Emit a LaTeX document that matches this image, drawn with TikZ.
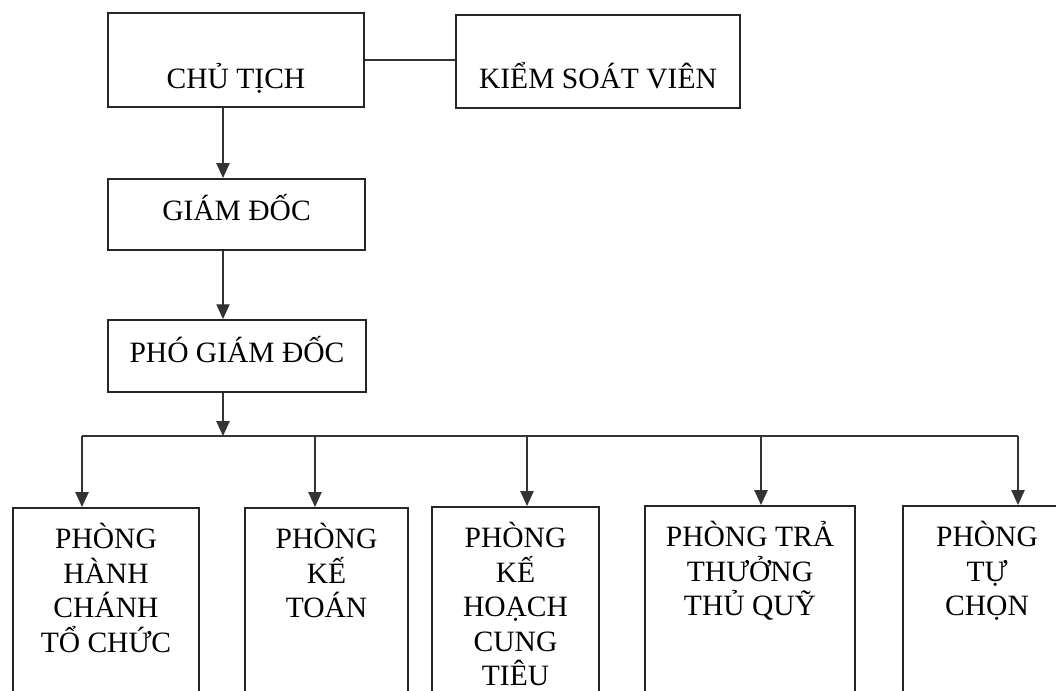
\documentclass[tikz,border=0pt]{standalone}
\usepackage{fontspec}
\setmainfont{Liberation Serif}
\usetikzlibrary{arrows.meta}

\tikzset{
  unit/.style={draw=black!85, line width=1.3pt, inner sep=0pt, align=center, text depth=0pt},
  dept/.style={draw=black!85, line width=1.3pt, inner sep=0pt, anchor=north},
  link/.style={draw=black!80, line width=1pt},
  down/.style={link, -{Triangle[length=0.37cm,width=0.33cm]}},
}
% text of a department box, hung from the top edge
\newcommand{\depttext}[2]{\parbox[t][8cm][t]{#1}{\centering\rule{0pt}{1.025cm}#2}}

\begin{document}
\begin{tikzpicture}[x=0.025cm,y=-0.025cm,font=\fontsize{21}{24.5}\selectfont]
\useasboundingbox (0,0) rectangle (1056,690);
\clip (0,0) rectangle (1056,690);

\node[unit, minimum width=6.4cm, minimum height=2.35cm, text height=1.4cm] (chair) at (236,60) {CHỦ TỊCH};
\node[unit, minimum width=7.1cm, minimum height=2.33cm, text height=1.35cm] (ksv) at (598,61.5) {KIỂM SOÁT VIÊN};
\node[unit, minimum width=6.43cm, minimum height=1.78cm, text height=0.3cm] (gd) at (236.5,214.5) {GIÁM ĐỐC};
\node[unit, minimum width=6.45cm, minimum height=1.8cm, text height=0.3cm] (pgd) at (237,356) {PHÓ GIÁM ĐỐC};

\node[dept] (hc) at (106,507) {\depttext{4.65cm}{PHÒNG\\HÀNH\\CHÁNH\\TỔ CHỨC}};
\node[dept] (kt) at (326.5,507) {\depttext{4.075cm}{PHÒNG\\KẾ\\TOÁN}};
\node[dept] (kh) at (515.5,506) {\depttext{4.175cm}{PHÒNG\\KẾ\\HOẠCH\\CUNG\\TIÊU}};
\node[dept] (tt) at (750,505) {\depttext{5.25cm}{PHÒNG TRẢ\\THƯỞNG\\THỦ QUỸ}};
\node[dept] (tc) at (987,505) {\depttext{4.2cm}{PHÒNG\\TỰ\\CHỌN}};

% vertical spine and the bus
\coordinate (axis) at (223,0);
\coordinate (bus) at (223,436);
\coordinate (b1) at (82,436);
\coordinate (b2) at (315,436);
\coordinate (b3) at (527,436);
\coordinate (b4) at (761,436);
\coordinate (b5) at (1018,436);

\draw[link] (chair.east) -- (chair.east -| ksv.west);
\draw[down] (chair.south -| axis) -- (gd.north -| axis);
\draw[down] (gd.south -| axis) -- (pgd.north -| axis);
\draw[down] (pgd.south -| axis) -- (bus);
\draw[link] (b1) -- (b5);
\foreach \b/\d in {b1/hc, b2/kt, b3/kh, b4/tt, b5/tc}
  \draw[down] (\b) -- (\b |- \d.north);

\end{tikzpicture}
\end{document}
